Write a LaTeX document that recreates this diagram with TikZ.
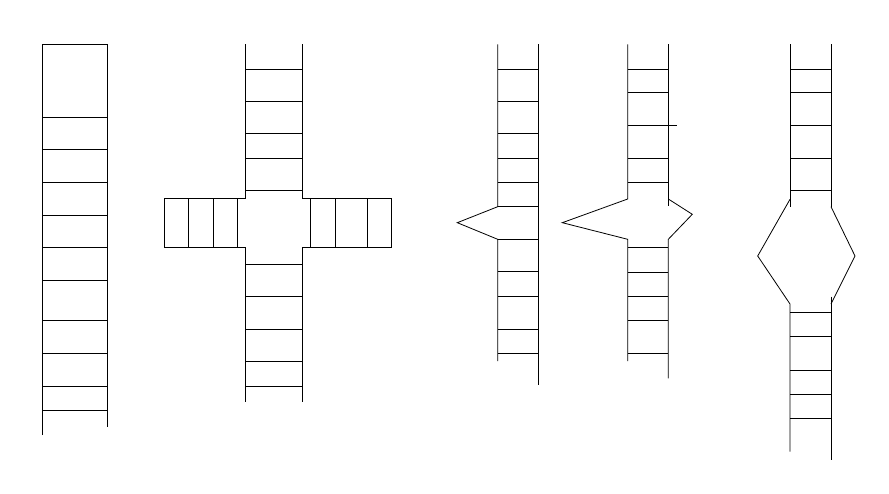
\documentclass[tikz,border=0pt]{standalone}
\begin{document}
\begin{tikzpicture}[x=1pt,y=-1pt,line width=0.8pt,line join=miter,
  ln/.style={draw=black}]
\useasboundingbox (0,0) rectangle (889,494);
% Figure 1
\draw[ln] (42.3,435) -- (42.3,44.3) -- (107.3,44.3) -- (107.3,426.7);
\foreach \y in {117.7,149.3,182.3,215,247.7,280,320.7,353.3,386,410}
  \draw[ln] (42.3,\y) -- (107.3,\y);
% Figure 2
\draw[ln] (245.7,44.3) -- (245.7,198.3) -- (164,198.3) -- (164,247.7) -- (245.7,247.7) -- (245.7,401.7);
\draw[ln] (302.3,44.3) -- (302.3,198.3) -- (391.7,198.3) -- (391.7,247.7) -- (302.3,247.7) -- (302.3,401.7);
\foreach \y in {69,101,133.7,158,190.7,264,296,329,361.7,386}
  \draw[ln] (245.7,\y) -- (302.3,\y);
\foreach \x in {188.3,213,237.3,310.3,335,367.3}
  \draw[ln] (\x,198.3) -- (\x,247.7);
% Figure 3
\draw[ln] (497.7,44.3) -- (497.7,206.7) -- (457.3,222.7) -- (497.7,239.3) -- (497.7,361);
\draw[ln] (538,44.3) -- (538,385);
\foreach \y in {69,101,133.7,158,182.7,206.7,239.3,271.7,296,329,353.3}
  \draw[ln] (497.7,\y) -- (538,\y);
% Figure 4
\draw[ln] (627.7,44.3) -- (627.7,199) -- (562.3,222.7) -- (627.7,239.3) -- (627.7,361);
\draw[ln] (668.3,44.3) -- (668.3,206);
\draw[ln] (668.3,199) -- (692.3,214.3) -- (668.3,239.3) -- (668.3,378.3);
\foreach \y in {69,92.7,158,182.7,247.3,272,296.7,320.7,353.3}
  \draw[ln] (627.7,\y) -- (668.3,\y);
\draw[ln] (627.7,125.7) -- (676.7,125.7);
% Figure 5
\draw[ln] (790,44.3) -- (790,206.7);
\draw[ln] (831,44.3) -- (831,206.7);
\draw[ln] (790,199.3) -- (757.7,256) -- (790,304) -- (790,451.7);
\draw[ln] (831,206.7) -- (855,256) -- (831,304);
\draw[ln] (831,296.7) -- (831,460);
\foreach \y in {69,92.7,125.7,158,190.7,312.7,336.7,370,394.3,418.3}
  \draw[ln] (790,\y) -- (831,\y);
\end{tikzpicture}
\end{document}
